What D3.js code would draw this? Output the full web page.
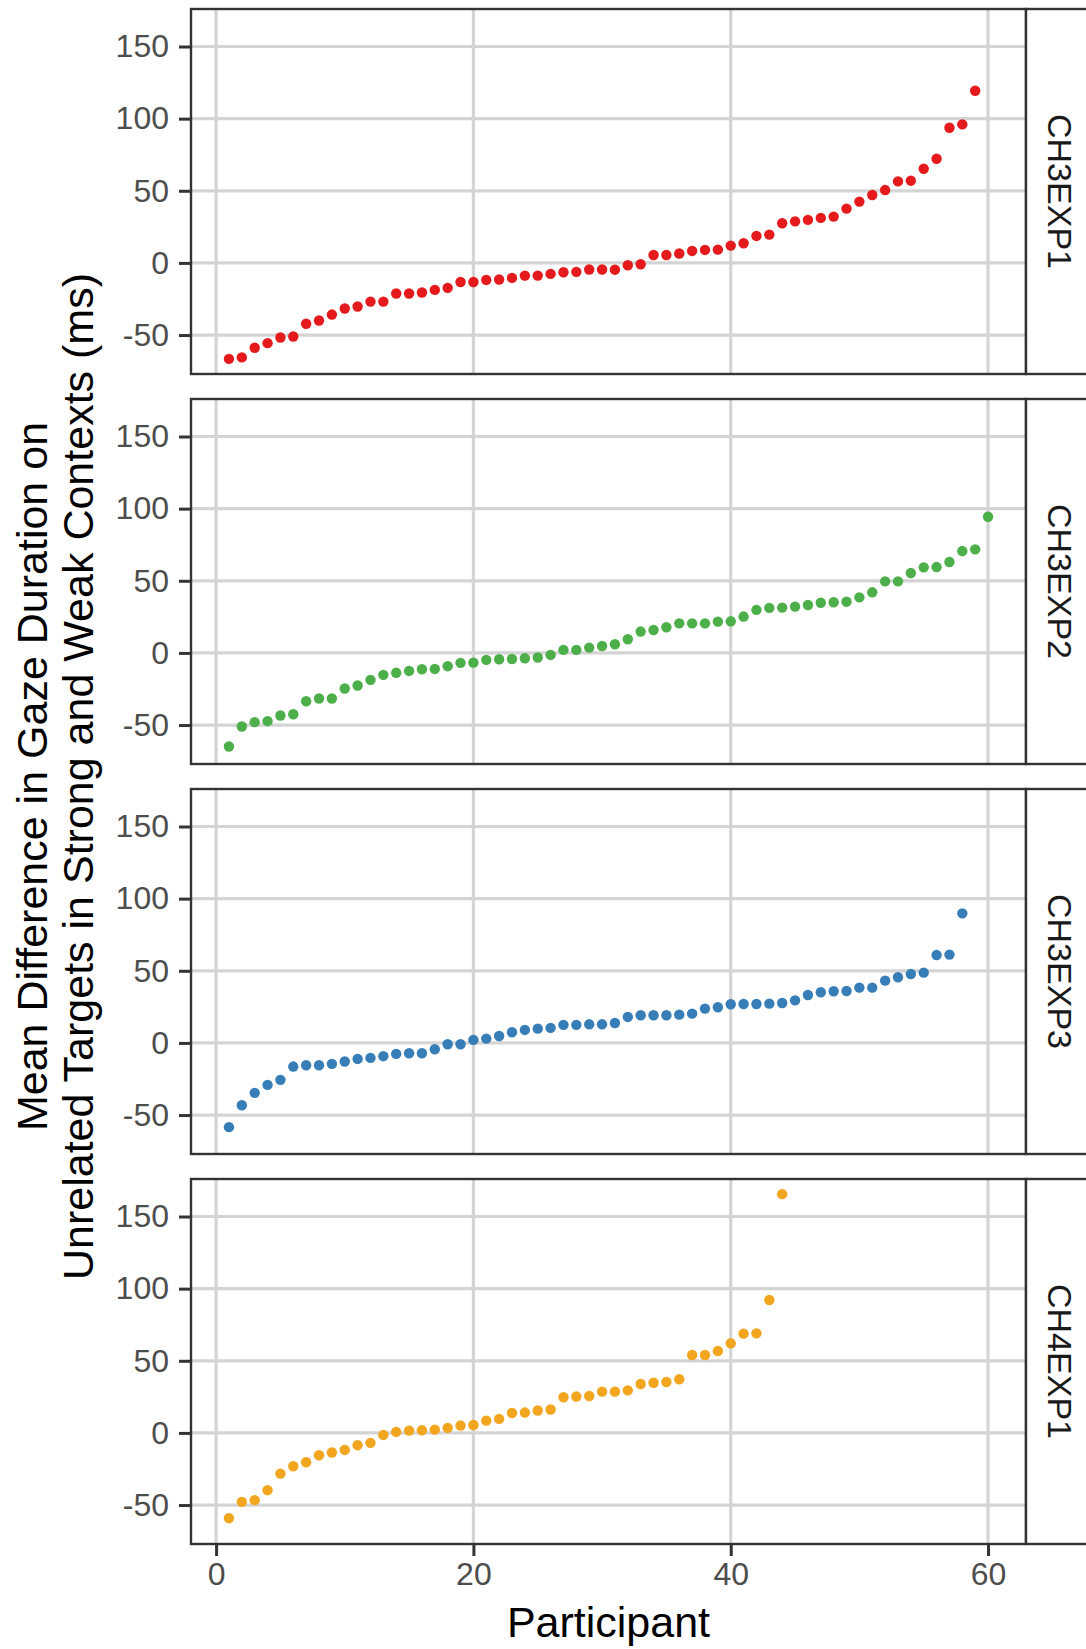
<!DOCTYPE html>
<html lang="en">
<head>
<meta charset="UTF-8">
<title>Gaze duration differences by participant</title>
<script src="https://d3js.org/d3.v7.min.js"></script>
<style>
  body { margin: 0; background: #fff; }
  svg { display: block; font-family: "Liberation Sans", Arial, sans-serif; }
</style>
</head>
<body>
<script>
// ---- data (sorted participant differences, ms) ----
const experiments = ["CH3EXP1", "CH3EXP2", "CH3EXP3", "CH4EXP1"];
const colors = ["#E41A1C", "#4DAF4A", "#377EB8", "#F2A51E"];

const ch3exp1 = [-66.5, -65.5, -58.8, -55.6, -51.7, -51.0, -42.2, -39.9, -35.8, -31.6,
  -30.2, -26.8, -26.8, -21.2, -21.2, -20.5, -18.7, -17.3, -13.2, -13.2,
  -11.8, -11.5, -10.4, -8.8, -8.8, -7.6, -6.5, -6.2, -4.6, -4.6,
  -4.7, -1.6, -0.9, 5.5, 5.5, 6.5, 8.3, 9.0, 9.2, 12.0,
  13.6, 18.7, 19.6, 27.5, 28.8, 29.8, 31.2, 32.1, 37.6, 42.5,
  47.1, 50.5, 56.5, 57.0, 65.3, 72.2, 93.7, 96.0, 119.3];

const ch3exp2 = [-64.9, -51.0, -48.0, -47.3, -43.4, -42.5, -33.5, -31.6, -31.6, -24.7,
  -22.6, -18.7, -15.2, -13.8, -12.5, -11.3, -11.1, -9.2, -6.9, -6.7,
  -4.8, -4.4, -4.2, -3.7, -3.2, -1.4, 2.1, 2.1, 3.7, 4.8,
  6.0, 9.5, 14.8, 15.9, 17.8, 20.5, 20.5, 20.5, 21.7, 21.9,
  25.2, 29.8, 31.2, 31.4, 32.1, 33.2, 34.8, 35.1, 35.5, 38.5,
  42.0, 49.6, 49.6, 55.4, 59.3, 59.5, 63.0, 70.6, 71.8, 94.4];

const ch3exp3 = [-58.4, -43.2, -34.6, -29.1, -25.6, -16.4, -15.5, -15.5, -14.5, -12.9,
  -11.1, -10.4, -9.2, -7.6, -7.2, -7.2, -4.4, -0.9, -0.9, 2.1,
  3.0, 4.8, 7.4, 9.0, 9.9, 10.4, 12.5, 12.5, 12.9, 12.9,
  13.8, 18.0, 19.2, 19.2, 19.2, 19.6, 20.3, 23.8, 24.7, 26.8,
  27.0, 27.0, 27.2, 27.7, 29.5, 33.2, 35.1, 35.8, 36.0, 38.3,
  38.3, 43.2, 45.5, 47.8, 48.7, 60.9, 61.2, 89.8];

const ch4exp1 = [-59.1, -47.8, -46.6, -39.7, -28.2, -23.1, -20.3, -15.5, -13.6, -11.8,
  -8.5, -6.9, -1.4, 0.7, 1.6, 1.8, 2.3, 3.5, 5.1, 5.5,
  8.5, 9.7, 13.8, 14.1, 15.5, 16.2, 24.7, 25.2, 25.6, 28.6,
  28.6, 29.5, 33.9, 34.8, 35.3, 37.2, 54.0, 54.0, 56.8, 62.1,
  68.8, 69.0, 92.1, 165.5];

const seriesValues = [ch3exp1, ch3exp2, ch3exp3, ch4exp1];
const xTicks = [0, 20, 40, 60];
const yTicks = [-50, 0, 50, 100, 150];

// ---- layout ----
const W = 1086, H = 1649;
const left = 191, right = 1026, stripW = 90;
const panelTop0 = 9, panelH = 365, panelGap = 25;

const svg = d3.select("body").append("svg")
  .attr("width", W).attr("height", H);

const x = d3.scaleLinear().domain([-1.95, 62.95]).range([left, right]);
const y = d3.scaleLinear().domain([-77, 176]).range([panelH, 0]);

experiments.forEach((name, p) => {
  const top = panelTop0 + p * (panelH + panelGap);
  const g = svg.append("g").attr("transform", `translate(0,${top})`);
  const pts = seriesValues[p].map((v, i) => ({ id: i + 1, v: v }));

  // grid
  g.selectAll("line.hg").data(yTicks).join("line")
    .attr("x1", left).attr("x2", right)
    .attr("y1", d => y(d)).attr("y2", d => y(d))
    .attr("stroke", "#D4D4D4").attr("stroke-width", 3.2);
  g.selectAll("line.vg").data(xTicks).join("line")
    .attr("x1", d => x(d)).attr("x2", d => x(d))
    .attr("y1", 0).attr("y2", panelH)
    .attr("stroke", "#D4D4D4").attr("stroke-width", 3.2);

  // points
  g.selectAll("circle").data(pts).join("circle")
    .attr("cx", d => x(d.id)).attr("cy", d => y(d.v))
    .attr("r", 5.2).attr("fill", colors[p]);

  // panel border
  g.append("rect").attr("x", left).attr("y", 0)
    .attr("width", right - left).attr("height", panelH)
    .attr("fill", "none").attr("stroke", "#333333").attr("stroke-width", 2.4);

  // strip
  g.append("rect").attr("x", right).attr("y", 0)
    .attr("width", stripW).attr("height", panelH)
    .attr("fill", "#fff").attr("stroke", "#333333").attr("stroke-width", 2.4);
  g.append("text")
    .attr("transform", `translate(${right + 34},${panelH / 2}) rotate(90)`)
    .attr("text-anchor", "middle").attr("dominant-baseline", "central")
    .attr("font-size", 34).attr("fill", "#1A1A1A")
    .text(name);

  // y axis
  const ya = g.append("g").attr("transform", `translate(${left - 1},0)`)
    .call(d3.axisLeft(y).tickValues(yTicks).tickSize(11).tickPadding(10).tickFormat(d => String(d)));
  ya.select(".domain").remove();
  ya.selectAll(".tick line").attr("stroke", "#333333").attr("stroke-width", 3);
  ya.selectAll(".tick text").attr("font-size", 32).attr("fill", "#4D4D4D")
    .attr("font-family", "Liberation Sans, Arial, sans-serif");

  // x axis only on the bottom panel
  if (p === experiments.length - 1) {
    const xa = g.append("g").attr("transform", `translate(0,${panelH + 1})`)
      .call(d3.axisBottom(x).tickValues(xTicks).tickSize(11).tickPadding(6).tickFormat(d => String(d)));
    xa.select(".domain").remove();
    xa.selectAll(".tick line").attr("stroke", "#333333").attr("stroke-width", 3);
    xa.selectAll(".tick text").attr("font-size", 32).attr("fill", "#4D4D4D")
      .attr("font-family", "Liberation Sans, Arial, sans-serif");
  }
});

// axis titles
const plotMid = panelTop0 + (4 * panelH + 3 * panelGap) / 2;
svg.append("text")
  .attr("transform", `translate(47,${plotMid}) rotate(-90)`)
  .attr("text-anchor", "middle").attr("font-size", 43).attr("fill", "#000")
  .text("Mean Difference in Gaze Duration on");
svg.append("text")
  .attr("transform", `translate(93,${plotMid}) rotate(-90)`)
  .attr("text-anchor", "middle").attr("font-size", 43).attr("fill", "#000")
  .text("Unrelated Targets in Strong and Weak Contexts (ms)");

svg.append("text")
  .attr("x", (left + right) / 2).attr("y", 1637)
  .attr("text-anchor", "middle").attr("font-size", 43).attr("fill", "#000")
  .text("Participant");
</script>
</body>
</html>
